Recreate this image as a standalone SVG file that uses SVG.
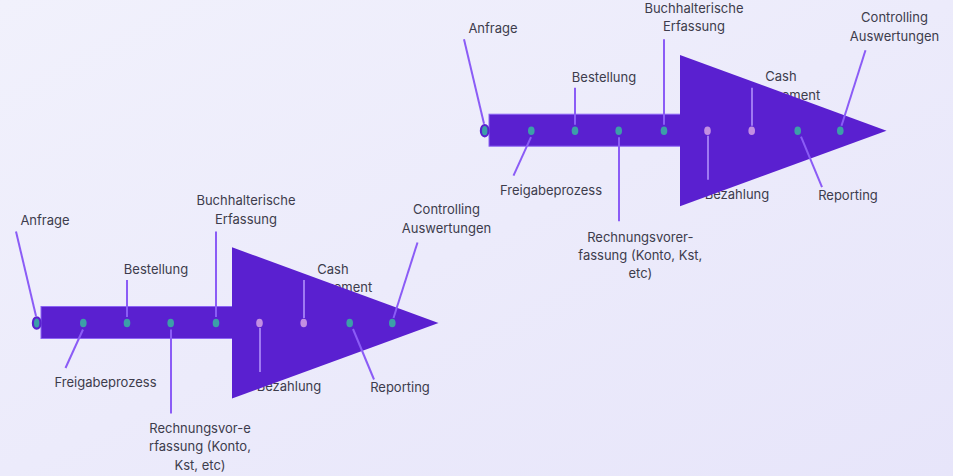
<svg xmlns="http://www.w3.org/2000/svg" width="953" height="476" viewBox="0 0 953 476">
  <defs>
    <linearGradient id="bg" x1="0" y1="0" x2="1" y2="1">
      <stop offset="0" stop-color="#f1f1fc"/>
      <stop offset="1" stop-color="#e7e5fa"/>
    </linearGradient>
    <style>
      .lbl { font-family: Inter, "Liberation Sans", sans-serif; font-size: 13px; fill: #3d3c4c; text-anchor: middle; }
      .bar { fill: #5a20d0; stroke: #8c64f4; stroke-width: 1; }
      .head { fill: #5a20d0; }
      .lead { stroke: #8b5cf6; stroke-width: 2; fill: none; stroke-linecap: butt; }
      .lead-soft { stroke: #9f79f2; stroke-width: 2; fill: none; }
      .dot-t { fill: #3c9fa8; }
      .dot-l { fill: #c38fe2; }
      .start { fill: #3c9fa8; stroke: #5a20d0; stroke-width: 2.2; }
    </style>
  </defs>

  <rect width="953" height="476" fill="url(#bg)"/>

  <!-- Lower process arrow -->
  <g id="flow-lower">
    <g id="lower-labels">
      <g id="lo-anfrage"><text class="lbl" x="45" y="225">Anfrage</text></g>
      <g id="lo-bestellung"><text class="lbl" x="156" y="274">Bestellung</text></g>
      <g id="lo-buchhaltung"><text class="lbl" x="246" y="205">Buchhalterische</text><text class="lbl" x="246" y="223.5">Erfassung</text></g>
      <g id="lo-cash"><text class="lbl" x="333" y="273.5">Cash</text><text class="lbl" x="332" y="292">Management</text></g>
      <g id="lo-controlling"><text class="lbl" x="446.5" y="214">Controlling</text><text class="lbl" x="446.5" y="233">Auswertungen</text></g>
      <g id="lo-freigabe"><text class="lbl" x="105.5" y="387">Freigabeprozess</text></g>
      <g id="lo-rechnung"><text class="lbl" x="200" y="433">Rechnungsvor-e</text><text class="lbl" x="200" y="451">rfassung (Konto,</text><text class="lbl" x="200" y="469.5">Kst, etc)</text></g>
      <g id="lo-bezahlung"><text class="lbl" x="289" y="391">Bezahlung</text></g>
      <g id="lo-reporting"><text class="lbl" x="400" y="392">Reporting</text></g>
    </g>
    <g id="lo-arrow">
      <rect class="bar" x="41" y="306.5" width="192" height="32"/>
      <polygon class="head" points="232,247.3 438.5,323 232,398.5"/>
    </g>
    <g id="lo-connectors">
      <line class="lead" x1="16" y1="231.5" x2="36" y2="316"/>
      <line class="lead" x1="83" y1="329.5" x2="65.5" y2="368"/>
      <line class="lead" x1="127" y1="280" x2="127" y2="317"/>
      <line class="lead" x1="171" y1="329.5" x2="171" y2="413.5"/>
      <line class="lead" x1="216" y1="231.5" x2="216" y2="317"/>
      <line class="lead-soft" x1="260" y1="328" x2="260" y2="372"/>
      <line class="lead-soft" x1="304" y1="280" x2="304" y2="318"/>
      <line class="lead" x1="353" y1="329" x2="374" y2="379.5"/>
      <line class="lead" x1="417.5" y1="242.5" x2="393.5" y2="318"/>
      <ellipse class="start" cx="36.7" cy="323" rx="3.8" ry="5.7"/>
      <ellipse class="dot-t" cx="83.3" cy="323" rx="3.3" ry="4.3"/>
      <ellipse class="dot-t" cx="127" cy="323" rx="3.3" ry="4.3"/>
      <ellipse class="dot-t" cx="170.7" cy="323" rx="3.3" ry="4.3"/>
      <ellipse class="dot-t" cx="216" cy="323" rx="3.3" ry="4.3"/>
      <ellipse class="dot-l" cx="259.5" cy="323" rx="3.3" ry="4.3"/>
      <ellipse class="dot-l" cx="303.7" cy="323" rx="3.3" ry="4.3"/>
      <ellipse class="dot-t" cx="349.7" cy="323" rx="3.3" ry="4.3"/>
      <ellipse class="dot-t" cx="392.3" cy="323" rx="3.3" ry="4.3"/>
    </g>
  </g>

  <!-- Upper process arrow -->
  <g id="flow-upper" transform="translate(448,-192.3)">
    <g id="upper-labels">
      <g id="up-anfrage"><text class="lbl" x="45" y="225">Anfrage</text></g>
      <g id="up-bestellung"><text class="lbl" x="156" y="274">Bestellung</text></g>
      <g id="up-buchhaltung"><text class="lbl" x="246" y="205">Buchhalterische</text><text class="lbl" x="246" y="223.5">Erfassung</text></g>
      <g id="up-cash"><text class="lbl" x="333" y="273.5">Cash</text><text class="lbl" x="332" y="292">Management</text></g>
      <g id="up-controlling"><text class="lbl" x="446.5" y="214">Controlling</text><text class="lbl" x="446.5" y="233">Auswertungen</text></g>
      <g id="up-freigabe"><text class="lbl" x="103" y="387">Freigabeprozess</text></g>
      <g id="up-rechnung"><text class="lbl" x="192.3" y="434">Rechnungsvorer-</text><text class="lbl" x="192.3" y="452.3">fassung (Konto, Kst,</text><text class="lbl" x="192.3" y="470.5">etc)</text></g>
      <g id="up-bezahlung"><text class="lbl" x="289" y="391">Bezahlung</text></g>
      <g id="up-reporting"><text class="lbl" x="400" y="392">Reporting</text></g>
    </g>
    <g id="up-arrow">
      <rect class="bar" x="41" y="306.5" width="192" height="32"/>
      <polygon class="head" points="232,247.3 438.5,323 232,398.5"/>
    </g>
    <g id="up-connectors">
      <line class="lead" x1="16" y1="231.5" x2="36" y2="316"/>
      <line class="lead" x1="83" y1="329.5" x2="65.5" y2="368"/>
      <line class="lead" x1="127" y1="280" x2="127" y2="317"/>
      <line class="lead" x1="171" y1="329.5" x2="171" y2="413.5"/>
      <line class="lead" x1="216" y1="231.5" x2="216" y2="317"/>
      <line class="lead-soft" x1="260" y1="328" x2="260" y2="372"/>
      <line class="lead-soft" x1="304" y1="280" x2="304" y2="318"/>
      <line class="lead" x1="353" y1="329" x2="374" y2="379.5"/>
      <line class="lead" x1="417.5" y1="242.5" x2="393.5" y2="318"/>
      <ellipse class="start" cx="36.7" cy="323" rx="3.8" ry="5.7"/>
      <ellipse class="dot-t" cx="83.3" cy="323" rx="3.3" ry="4.3"/>
      <ellipse class="dot-t" cx="127" cy="323" rx="3.3" ry="4.3"/>
      <ellipse class="dot-t" cx="170.7" cy="323" rx="3.3" ry="4.3"/>
      <ellipse class="dot-t" cx="216" cy="323" rx="3.3" ry="4.3"/>
      <ellipse class="dot-l" cx="259.5" cy="323" rx="3.3" ry="4.3"/>
      <ellipse class="dot-l" cx="303.7" cy="323" rx="3.3" ry="4.3"/>
      <ellipse class="dot-t" cx="349.7" cy="323" rx="3.3" ry="4.3"/>
      <ellipse class="dot-t" cx="392.3" cy="323" rx="3.3" ry="4.3"/>
    </g>
  </g>
</svg>
